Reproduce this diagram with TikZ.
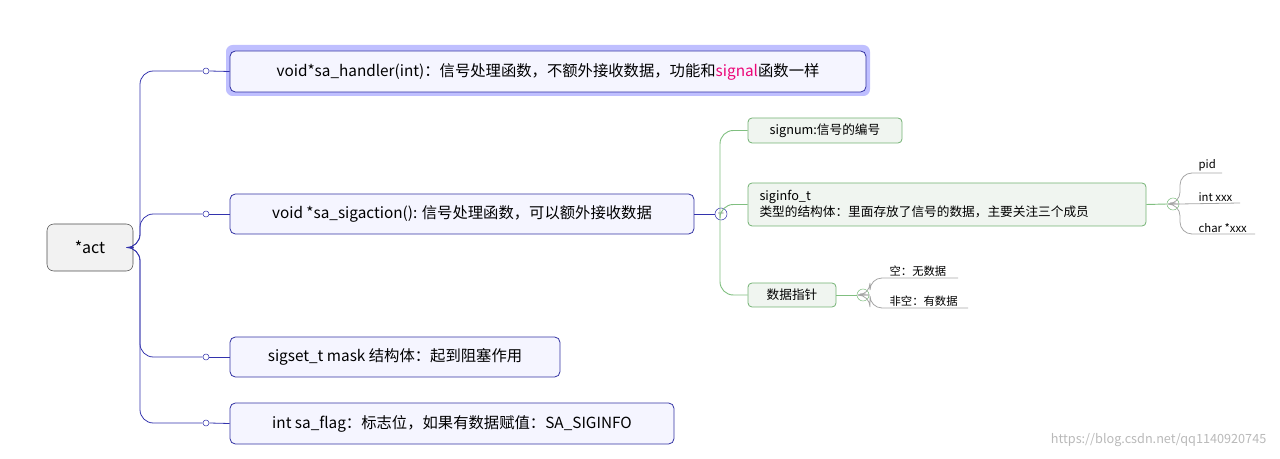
\documentclass[tikz,border=0pt]{standalone}
\usepackage{fontspec}
\setmainfont{Noto Sans CJK SC}
\begin{document}
\begin{tikzpicture}[x=0.75pt,y=-0.75pt,
  blu/.style={draw=blue!55!black!80,fill=blue!4,rounded corners=4pt,line width=0.6pt,font=\fontsize{11.5}{13}\selectfont,inner sep=0pt},
  grn/.style={draw=green!45!black!55,fill=green!35!black!6,rounded corners=3pt,line width=0.6pt,font=\fontsize{9.5}{12}\selectfont,inner sep=0pt},
  leaf/.style={font=\fontsize{8.5}{10}\selectfont,anchor=south west,inner sep=1pt},
  bline/.style={draw=blue!60!black!80,line width=0.6pt,rounded corners=10pt},
  gline/.style={draw=green!50!black!50,line width=0.7pt,rounded corners=10pt},
  lline/.style={draw=gray!70,line width=0.6pt,rounded corners=9pt},
  dot/.style={circle,draw=blue!60!black!80,fill=white,inner sep=0pt,minimum size=4.5pt},
  col/.style={circle,draw,fill=white,inner sep=0pt,minimum size=9pt,font=\fontsize{6}{6}\selectfont}]
\useasboundingbox (0,0) rectangle (1280,459);
\node[draw=gray!60!black,fill=gray!10,rounded corners=5pt,minimum width=86*0.75pt,minimum height=47*0.75pt,font=\fontsize{12}{14}\selectfont] (act) at (90,247.5) {*act};
\fill[blue!25,rounded corners=5pt] (226,45) rectangle (870,96);
\node[blu,minimum width=636*0.75pt,minimum height=41*0.75pt] (b1) at (548,71.5) {void*sa\_handler(int)：信号处理函数，不额外接收数据，功能和{\color{magenta!80!red}signal}函数一样};
\node[blu,minimum width=464*0.75pt,minimum height=40*0.75pt] (b2) at (462,214) {void *sa\_sigaction(): 信号处理函数，可以额外接收数据};
\node[blu,minimum width=330*0.75pt,minimum height=40*0.75pt] (b3) at (395,357) {sigset\_t mask 结构体：起到阻塞作用};
\node[blu,minimum width=444*0.75pt,minimum height=41*0.75pt] (b4) at (452,423.5) {int sa\_flag：标志位，如果有数据赋值：SA\_SIGINFO};
\foreach \i/\y in {1/71,2/214,3/357,4/423}{
  \node[dot] (d\i) at (206,\y) {};
  \draw[bline] (act.east) -- (140,247.5) |- (d\i.west);
  \draw[bline] (d\i.east) -- (b\i.west);
}
\node[grn,minimum width=154*0.75pt,minimum height=25*0.75pt] (g1) at (825,130.5) {signum:信号的编号};
\node[grn,minimum width=398*0.75pt,minimum height=43*0.75pt,align=left,text width=375*0.75pt] (g2) at (947,204.5) {siginfo\_t\\类型的结构体：里面存放了信号的数据，主要关注三个成员};
\node[grn,minimum width=88*0.75pt,minimum height=24*0.75pt] (g3) at (792,295) {数据指针};
\node[col,draw=blue!60!black!80] (c1) at (721,214) {$-$};
\draw[bline] (b2.east) -- (c1.west);
\foreach \g in {g1,g2,g3}{\draw[gline] (c1.north) ++(0,0) (c1) ++(-1,0) (720,214) |- (\g.west);}
\node[col,draw=green!50!black!50] (c2) at (1173,204) {$-$};
\draw[gline] (g2.east) -- (c2.west);
\node[col,draw=green!50!black!50] (c3) at (863,295) {$-$};
\draw[gline] (g3.east) -- (c3.west);
\node[leaf] (l1) at (1197,173) {pid};
\node[leaf] (l2) at (1197,203) {int xxx};
\node[leaf] (l3) at (1197,234) {char *xxx};
\draw[lline] (c2.east) -- (1180,204) |- (1222,173);
\draw[lline] (c2.east) -- (1240,203);
\draw[lline] (c2.east) -- (1180,204) |- (1255,234);
\node[leaf] (m1) at (888,278) {空：无数据};
\node[leaf] (m2) at (888,308) {非空：有数据};
\draw[lline] (c3.east) -- (870,295) |- (958,278);
\draw[lline] (c3.east) -- (870,295) |- (968,308);
\node[text=gray!55,font=\fontsize{9.5}{11}\selectfont,anchor=east] (wm) at (1271,440) {https://blog.csdn.net/qq1140920745};
\end{tikzpicture}
\end{document}
